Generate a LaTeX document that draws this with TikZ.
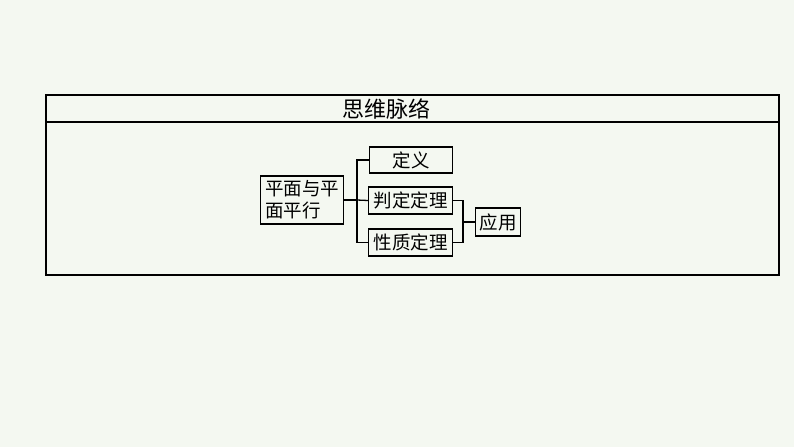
\documentclass[tikz,border=0pt]{standalone}
\usepackage{fontspec}
\newfontfamily\cjk{Noto Sans CJK SC}
\usetikzlibrary{positioning}
\definecolor{fond}{RGB}{244,248,241}
\begin{document}
\begin{tikzpicture}[x=1pt,y=-1pt,line width=1.3pt,font=\cjk\fontsize{18.5}{22}\selectfont,
kasten/.style={draw,inner sep=0pt,minimum height=26pt,anchor=west},
verbind/.style={line width=1.3pt}
]
\fill[fond] (0,0) rectangle (794,447);
\useasboundingbox (0,0) rectangle (794,447);
%-- rahmen
\draw (46,95) rectangle (779,275);
\draw (46,122) -- (779,122);
\node[font=\cjk\fontsize{22}{26}\selectfont] (titel) at (386,109) {思维脉络};
%-- knoten
\node[draw,inner sep=0pt,minimum width=83pt,minimum height=48pt,align=left,anchor=west] (haupt) at (260,200) {平面与平\\面平行};
\node[kasten,minimum width=83pt] (def) at (369,160) {定义};
\node[kasten,minimum width=84pt,minimum height=27pt] (pan) at (368,200.5) {判定定理};
\node[kasten,minimum width=84pt,minimum height=27pt] (xing) at (368,242.5) {性质定理};
\node[kasten,minimum width=45pt,minimum height=28pt] (ying) at (475,222) {应用};
%-- linien
\coordinate (bus) at (357,200);
\draw[verbind] (haupt.east) -- (bus);
\draw[verbind] (def.west) -| (bus) |- (xing.west);
\draw[verbind] (bus) -- (pan.west);
\coordinate (bus2) at (463,222);
\draw[verbind] (pan.east) -| (bus2) |- (xing.east);
\draw[verbind] (bus2) -- (ying.west);
\end{tikzpicture}
\end{document}
